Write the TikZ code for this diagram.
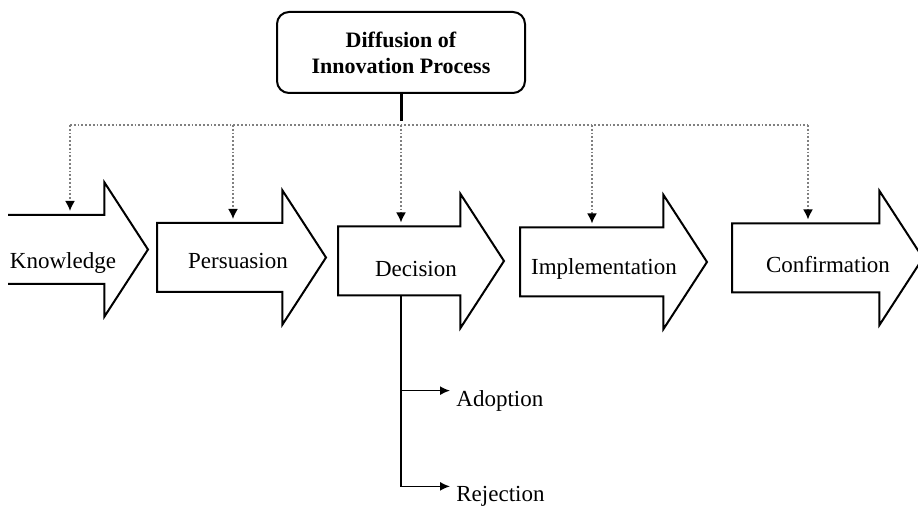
\documentclass[tikz,border=0pt]{standalone}
\usepackage{fontspec}
\setmainfont{Liberation Serif}
\usetikzlibrary{shapes.arrows,arrows.meta,positioning}
\tikzset{
stage/.style={
  single arrow,
  draw,
  line width=1pt,
  single arrow head extend=16.25pt,
  single arrow tip angle=114,
  single arrow head indent=0pt,
  inner xsep=0pt,
  inner ysep=16.75pt,
  anchor=tail
  },
stagetext/.style={
  anchor=base,
  inner sep=0pt,
  font=\fontsize{11.5}{13}\selectfont
  },
drop/.style={
  gray,
  densely dotted,
  line width=0.9pt,
  shorten >=1.5pt,
  -{Latex[color=black,length=5pt,width=5pt]}
  },
branch/.style={
  line width=0.8pt,
  shorten >=3pt,
  -{Latex[length=5pt,width=4.5pt]}
  }
}

\begin{document}
\begin{tikzpicture}[x=0.5pt,y=-0.5pt]
\useasboundingbox (0,0) rectangle (918,507);
\clip (8,0) rectangle (918,507);

\node[draw,rounded corners=6pt,line width=1pt,minimum width=124pt,minimum height=40.5pt,
  align=center,font=\bfseries\fontsize{11}{13}\selectfont]
  (dip) at (401,52.5) {Diffusion of\\Innovation Process};

% the five stages
\node[stage,minimum height=88.5pt] (know) at (-30,249.5) {};
\node[stage,minimum height=84.5pt] (persu) at (156,257.5) {};
\node[stage,minimum height=83pt] (deci) at (337,261) {};
\node[stage,minimum height=93.5pt] (impl) at (519,262) {};
\node[stage,minimum height=95.5pt] (conf) at (731,258) {};

\node[stagetext] (knowt) at (63,269) {Knowledge};
\node[stagetext] (persut) at (238,269) {Persuasion};
\node[stagetext] (decit) at (416,277) {Decision};
\node[stagetext] (implt) at (604,275) {Implementation};
\node[stagetext] (conft) at (828,273) {Confirmation};

\node[stagetext,anchor=base west] (adopt) at (456,407) {Adoption};
\node[stagetext,anchor=base west] (rejt) at (456,502) {Rejection};

% bus from the process box
\coordinate (b1) at (70,125);
\coordinate (b2) at (233,125);
\coordinate (b3) at (401,125);
\coordinate (b4) at (592,125);
\coordinate (b5) at (808,125);

\draw[line width=1.5pt] (dip.south) -- (b3 |- 0,121);
\draw[gray,densely dotted,line width=0.9pt] (b1) -- (b5);

\draw[drop] (b1) -- (b1 |- know.after tail);
\draw[drop] (b2) -- (b2 |- persu.after tail);
\draw[drop] (b3) -- (b3 |- deci.after tail);
\draw[drop] (b4) -- (b4 |- impl.after tail);
\draw[drop] (b5) -- (b5 |- conf.after tail);

% adoption / rejection
\draw[line width=0.8pt] (b3 |- deci.before tail) -- (b3 |- adopt.north west);
\draw[branch] (b3 |- adopt.north west) -- (adopt.north west);
\draw[branch] (b3 |- adopt.north west) |- (rejt.north west);
\end{tikzpicture}
\end{document}
